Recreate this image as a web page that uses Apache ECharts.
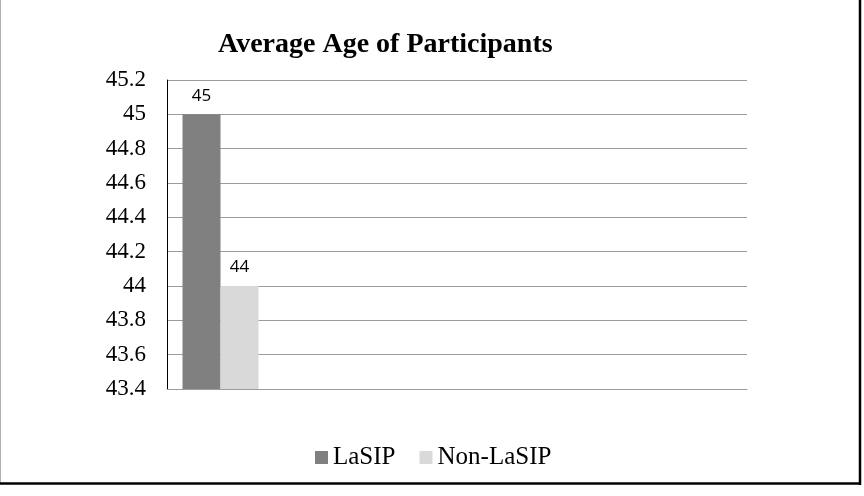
<!DOCTYPE html>
<html lang="en">
<head>
	<meta charset="UTF-8">
	<title>Average Age of Participants</title>
	<script src="https://cdn.jsdelivr.net/npm/echarts@6/dist/echarts.min.js"></script>
	<style>
		body { margin: 0; background: #fff; }
		#main { width: 864px; height: 496px; }
	</style>
</head>
<body>
	<div id="main"></div>
	<script type="text/javascript">
		// data
		var categories = ['Average Age'];
		var lasip = [45];
		var nonLasip = [44];
		var yMin = 43.4, yMax = 45.2, yStep = 0.2;

		var serif = '"Liberation Serif", "Times New Roman", serif';
		var myChart = echarts.init(document.getElementById('main'));

		var option = {
			backgroundColor: '#fff',
			animation: false,
			title: {
				text: 'Average Age of Participants',
				left: 213,
				top: 26,
				textStyle: { fontFamily: serif, fontSize: 28, fontWeight: 'bold', color: '#000' }
			},
			legend: {
				left: 310,
				top: 440,
				itemWidth: 13,
				itemHeight: 13,
				itemGap: 24,
				icon: 'rect',
				textStyle: { fontFamily: serif, fontSize: 25, color: '#000' },
				data: ['LaSIP', 'Non-LaSIP']
			},
			grid: [
				// full plot area: gridlines + axis labels
				{ left: 167, right: 117, top: 80, bottom: 107 },
				// narrow area holding the bar group near the left
				{ left: 167, right: 590, top: 80, bottom: 107 }
			],
			xAxis: [
				{
					gridIndex: 0, type: 'category', data: [''],
					axisLine: { lineStyle: { color: '#9c9c9c', width: 1 } },
					axisTick: { show: false }, axisLabel: { show: false }
				},
				{
					gridIndex: 1, type: 'category', data: categories, show: false
				}
			],
			yAxis: [
				{
					gridIndex: 0, type: 'value', min: yMin, max: yMax, interval: yStep,
					axisLine: { show: true, lineStyle: { color: '#000', width: 1 } },
					axisTick: { show: false },
					axisLabel: {
						margin: 21, fontFamily: serif, fontSize: 23, color: '#000',
						formatter: function (v) { return String(Math.round(v * 10) / 10); }
					},
					splitLine: { lineStyle: { color: '#9c9c9c', width: 1 } }
				},
				{
					gridIndex: 1, type: 'value', min: yMin, max: yMax, show: false,
					splitLine: { show: false }
				}
			],
			series: [
				{
					name: 'LaSIP', type: 'bar', xAxisIndex: 1, yAxisIndex: 1,
					data: lasip, barWidth: 38, barGap: '0%',
					itemStyle: { color: '#808080' },
					label: { show: true, position: 'top', distance: 10, fontFamily: '"Open Sans", sans-serif', fontSize: 17, color: '#000' }
				},
				{
					name: 'Non-LaSIP', type: 'bar', xAxisIndex: 1, yAxisIndex: 1,
					data: nonLasip, barWidth: 38, barGap: '0%',
					itemStyle: { color: '#d9d9d9' },
					label: { show: true, position: 'top', distance: 10, fontFamily: '"Open Sans", sans-serif', fontSize: 17, color: '#000' }
				}
			],
			graphic: [
				{ type: 'line', shape: { x1: 0.5, y1: 0, x2: 0.5, y2: 484 }, style: { stroke: '#b0b0b0', lineWidth: 1 } },
				{ type: 'line', shape: { x1: 860, y1: 0, x2: 860, y2: 485 }, style: { stroke: '#000', lineWidth: 2.5 } },
				{ type: 'line', shape: { x1: 0, y1: 483.5, x2: 861, y2: 483.5 }, style: { stroke: '#000', lineWidth: 2.5 } }
			]
		};

		myChart.setOption(option);
	</script>
</body>
</html>
